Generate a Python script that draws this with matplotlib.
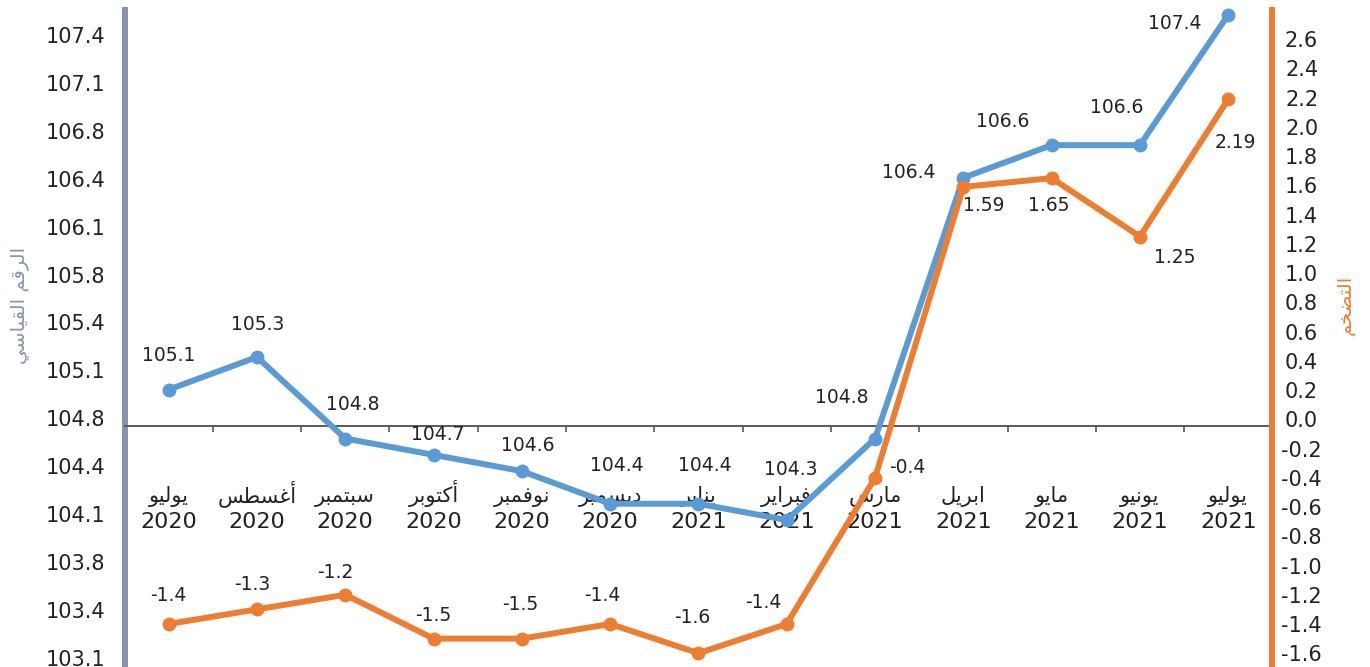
import numpy as np
import matplotlib
matplotlib.use('Agg')
import matplotlib.pyplot as plt
import matplotlib.transforms as mtransforms
from matplotlib.ticker import FuncFormatter

plt.rcParams['font.family'] = ['DejaVu Sans']

# data
months = ['يوليو', 'أغسطس', 'سبتمبر', 'أكتوبر', 'نوفمبر', 'ديسمبر', 'يناير',
          'فبراير', 'مارس', 'ابريل', 'مايو', 'يونيو', 'يوليو']
years = ['2020', '2020', '2020', '2020', '2020', '2020', '2021',
         '2021', '2021', '2021', '2021', '2021', '2021']
index_vals = [105.1, 105.3, 104.8, 104.7, 104.6, 104.4, 104.4, 104.3, 104.8, 106.4, 106.6, 106.6, 107.4]
infl_vals = [-1.4, -1.3, -1.2, -1.5, -1.5, -1.4, -1.6, -1.4, -0.4, 1.59, 1.65, 1.25, 2.19]
left_title = 'الرقم القياسي'
right_title = 'التضخم'

# label offsets (pixels) for the value labels
blue_off = [(0, 34), (1, 33), (7, 34), (4, 20), (6, 26), (7, 38), (6, 38), (4, 51),
            (-33, 41), (-55, 5), (-49, 24), (-23, 38), (-53, -9)]
orange_off = [(0, 28), (-5, 25), (-10, 22), (0, 23), (-2, 34), (-8, 28), (-6, 36), (-23, 21),
              (32, 10), (20, -19), (-3, -27), (35, -21), (7, -43)]

BLUE = '#5B9BD5'
ORANGE = '#ED7D31'
GREYBLUE = '#8494B1'
TXT = '#222222'

# small arabic shaper (matplotlib does not join arabic letters by itself)
RIGHT_JOIN = {'ا': 0xFE8D, 'أ': 0xFE83, 'د': 0xFEA9, 'ر': 0xFEAD, 'و': 0xFEED}
DUAL_JOIN = {'ب': 0xFE8F, 'ت': 0xFE95, 'خ': 0xFEA5, 'س': 0xFEB1, 'ض': 0xFEBD, 'ط': 0xFEC1,
             'غ': 0xFECD, 'ف': 0xFED1, 'ق': 0xFED5, 'ك': 0xFED9, 'ل': 0xFEDD, 'م': 0xFEE1,
             'ن': 0xFEE5, 'ي': 0xFEF1}


def shape(word):
    out = []
    for i, ch in enumerate(word):
        prev = word[i - 1] if i > 0 else ''
        nxt = word[i + 1] if i + 1 < len(word) else ''
        joins_prev = prev in DUAL_JOIN and (ch in DUAL_JOIN or ch in RIGHT_JOIN)
        if ch in RIGHT_JOIN:
            out.append(chr(RIGHT_JOIN[ch] + (1 if joins_prev else 0)))
        elif ch in DUAL_JOIN:
            joins_next = nxt in DUAL_JOIN or nxt in RIGHT_JOIN
            form = {(False, False): 0, (True, False): 1, (False, True): 2, (True, True): 3}[(joins_prev, joins_next)]
            out.append(chr(DUAL_JOIN[ch] + form))
        else:
            out.append(ch)
    return ''.join(reversed(out))


W, H = 1370, 667
fig = plt.figure(figsize=(W / 100, H / 100), dpi=100)
ax = fig.add_axes([124.5 / W, -33 / H, (1272.4 - 124.5) / W, 690 / H])
x = np.arange(len(months))

# left axis: only the scale / tick labels
ax.set_xlim(-0.5, len(months) - 0.5)
ax.set_ylim(102.808, 107.606)
ax.set_yticks(103.1 + np.arange(14) / 3)
ax.yaxis.set_major_formatter(FuncFormatter(lambda v, p: f'{v:.1f}'))
ax.tick_params(axis='y', length=0, pad=14, labelsize=15, labelcolor=TXT)
for s in ['top', 'right']:
    ax.spines[s].set_visible(False)
ax.spines['left'].set_color(GREYBLUE)
ax.spines['left'].set_linewidth(4.3)
ax.spines['bottom'].set_position(('axes', (700 - 425.7) / 690))
ax.spines['bottom'].set_color('#595959')
ax.spines['bottom'].set_linewidth(1.4)
ax.set_xticks(x)
ax.set_xticklabels([])
ax.set_xticks(np.arange(0.5, len(months) - 1, 1), minor=True)
ax.tick_params(axis='x', which='major', length=0)
ax.tick_params(axis='x', which='minor', length=4, width=1.2, color='#595959', direction='out')

tr = mtransforms.blended_transform_factory(ax.transData, ax.transAxes)
for i in range(len(months)):
    ax.text(i, (700 - 502) / 690, shape(months[i]), transform=tr, ha='center', va='baseline',
            fontsize=15, color=TXT)
    ax.text(i, (700 - 528) / 690, years[i], transform=tr, ha='center', va='baseline',
            fontsize=16, color=TXT)

# index series
axb = ax.twinx()
axb.set_ylim(103.196, 107.429)
axb.set_yticks([])
for s in axb.spines.values():
    s.set_visible(False)
axb.plot(x, index_vals, color=BLUE, lw=4.3, marker='o', ms=9, clip_on=False, zorder=3)
for i, v in enumerate(index_vals):
    axb.annotate(f'{v}', xy=(i, v), xytext=blue_off[i], textcoords='offset pixels',
                 ha='center', va='center', fontsize=13.5, color=TXT)

# inflation series on right axis
axr = ax.twinx()
axr.set_ylim(-1.92, 2.80)
axr.set_yticks(np.round(np.arange(-16, 27, 2) / 10, 1))
axr.yaxis.set_major_formatter(FuncFormatter(lambda v, p: f'{round(v, 1) + 0.0:.1f}'))
axr.tick_params(axis='y', length=0, pad=21, labelsize=15, labelcolor=TXT)
for lbl in axr.get_yticklabels():
    lbl.set_horizontalalignment('center')
for s in ['left', 'top', 'bottom']:
    axr.spines[s].set_visible(False)
axr.spines['right'].set_color(ORANGE)
axr.spines['right'].set_linewidth(4.3)
axr.plot(x, infl_vals, color=ORANGE, lw=4.3, marker='o', ms=9, clip_on=False, zorder=3)
for i, v in enumerate(infl_vals):
    axr.annotate(f'{v}', xy=(i, v), xytext=orange_off[i], textcoords='offset pixels',
                 ha='center', va='center', fontsize=13.5, color=TXT)

fig.text(20 / W, 1 - 305 / H, shape(left_title), rotation=90, ha='center', va='center',
         fontsize=14, color=GREYBLUE)
fig.text(1345 / W, 1 - 305 / H, shape(right_title), rotation=90, ha='center', va='center',
         fontsize=14, color=ORANGE)

fig.savefig('out.png', dpi=100)
